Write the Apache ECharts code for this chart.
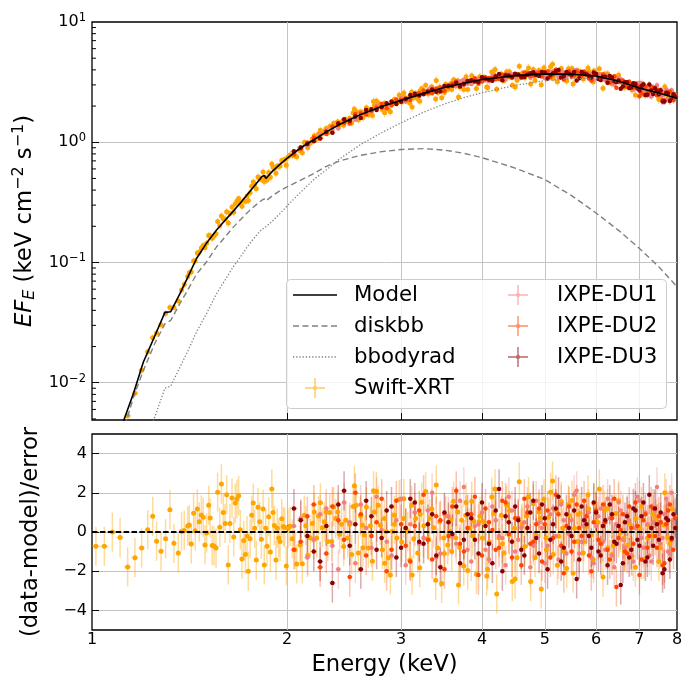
<!DOCTYPE html>
<html><head><meta charset="utf-8">
<script src="https://cdn.jsdelivr.net/npm/echarts@6/dist/echarts.min.js"></script>
<style>html,body{margin:0;padding:0;background:#fff}#c{width:697px;height:678px}</style>
</head><body><div id="c"></div>
<script>
// ---------------- data ----------------
const modelE = [1.05,1.10,1.12,1.16,1.20,1.25,1.296,1.300,1.323,1.367,1.40,1.45,1.50,1.557,1.60,1.65,1.692,1.75,1.80,1.83,1.845,1.855,1.90,1.95,2.00,2.10,2.20,2.30,2.414,2.60,2.80,3.00,3.25,3.50,3.75,4.00,4.50,5.00,5.50,6.00,6.50,7.00,7.50,8.00];
const modelTotal = [0.0017,0.0036,0.0049,0.0083,0.0148,0.0245,0.0385,0.0390,0.0390,0.055,0.072,0.108,0.143,0.186,0.220,0.265,0.309,0.385,0.465,0.520,0.530,0.500,0.575,0.655,0.735,0.90,1.05,1.22,1.41,1.70,1.98,2.23,2.55,2.85,3.10,3.33,3.58,3.70,3.68,3.56,3.22,2.82,2.57,2.32];
const modelDisk = [0.0013,0.0030,0.0041,0.0077,0.0126,0.0212,0.0310,0.0300,0.0330,0.0456,0.057,0.080,0.100,0.135,0.160,0.195,0.225,0.270,0.308,0.330,0.338,0.325,0.360,0.395,0.425,0.485,0.550,0.630,0.700,0.780,0.835,0.870,0.885,0.860,0.810,0.745,0.610,0.490,0.360,0.258,0.185,0.131,0.092,0.063];
const modelBB = [0.0002,0.0006,0.0009,0.0016,0.0030,0.0052,0.0090,0.0092,0.0094,0.0135,0.0175,0.0265,0.0369,0.0552,0.0697,0.091,0.110,0.143,0.172,0.190,0.193,0.192,0.222,0.255,0.295,0.385,0.490,0.590,0.730,0.960,1.200,1.450,1.780,2.080,2.350,2.580,2.980,3.250,3.380,3.400,3.200,2.800,2.520,2.270];

const swiftE = [1.014,1.045,1.075,1.105,1.135,1.165,1.193,1.219,1.241,1.258,1.278,1.299,1.319,1.338,1.359,1.375,1.388,1.405,1.413,1.423,1.435,1.443,1.454,1.464,1.475,1.485,1.494,1.503,1.514,1.522,1.533,1.543,1.554,1.563,1.575,1.584,1.595,1.605,1.614,1.623,1.633,1.645,1.655,1.664,1.674,1.684,1.694,1.704,1.715,1.725,1.735,1.743,1.754,1.764,1.774,1.783,1.793,1.804,1.815,1.826,1.837,1.845,1.854,1.863,1.874,1.885,1.895,1.903,1.912,1.923,1.932,1.942,1.951,1.963,1.974,1.984,1.995,2.007,
2.021,2.038,2.058,2.070,2.095,2.112,2.127,2.138,2.153,2.173,2.188,2.204,2.223,2.236,2.252,2.268,2.284,2.298,2.312,2.328,2.345,2.361,2.378,2.395,2.412,2.429,2.446,2.464,2.482,2.499,2.517,2.541,2.559,2.577,2.596,2.614,2.633,2.652,2.671,2.690,2.710,2.729,2.748,2.767,2.787,2.807,2.827,2.847,2.867,2.888,2.908,2.929,2.957,2.981,3.007,3.028,3.050,3.072,3.094,3.116,3.138,3.160,3.183,3.206,3.228,3.252,3.274,3.298,3.321,3.345,3.369,3.393,3.417,3.441,3.466,3.491,3.516,3.541,3.566,3.592,3.617,3.643,3.669,3.695,3.722,3.749,3.775,3.802,3.829,3.857,3.885,3.921,3.958,4.005,
4.029,4.068,4.106,4.141,4.175,4.215,4.249,4.284,4.325,4.367,4.407,4.455,4.493,4.530,4.567,4.611,4.656,4.689,4.756,4.800,4.846,4.893,4.938,4.986,5.022,5.070,5.106,5.154,5.203,5.253,5.302,5.353,5.405,5.455,5.508,5.561,5.613,5.667,5.734,5.789,5.845,5.899,5.956,6.013,6.069,6.128,6.186,6.259,6.349,6.440,6.533,6.627,6.722,6.818,6.916,7.015,7.115,7.217,7.320,7.425,7.532,7.638,7.747,7.859];
const swiftFlux = [0.00093,0.00149,0.00249,0.00383,0.00531,0.00818,0.0127,0.0181,0.0237,0.0259,0.0303,0.0377,0.0422,0.0422,0.0479,0.0590,0.0656,0.0766,0.0822,0.0835,0.1028,0.103,0.1197,0.1216,0.1318,0.1387,0.1324,0.1445,0.168,0.167,0.159,0.166,0.173,0.219,0.202,0.244,0.231,0.230,0.264,0.213,0.255,0.290,0.262,0.307,0.324,0.340,0.313,0.294,0.327,0.322,0.358,0.327,0.380,0.431,0.467,0.443,0.410,0.513,0.504,0.491,0.565,0.472,0.508,0.486,0.560,0.511,0.658,0.621,0.607,0.553,0.634,0.628,0.634,0.706,0.705,0.719,0.644,0.755,
0.783,0.775,0.776,0.757,0.849,0.819,0.995,0.975,0.898,0.984,1.062,1.135,1.064,1.172,1.259,1.180,1.235,1.303,1.197,1.355,1.250,1.439,1.415,1.479,1.393,1.472,1.387,1.549,1.479,1.581,1.445,1.888,1.791,1.542,1.791,1.762,1.726,1.932,1.694,1.862,1.667,2.014,2.198,2.123,2.009,1.871,2.113,2.042,1.879,1.791,2.118,2.270,2.128,2.472,2.163,2.377,2.323,2.323,2.123,2.612,2.350,2.553,2.286,2.193,2.805,2.612,2.979,2.547,2.767,2.891,2.735,2.291,2.594,2.884,2.339,2.780,3.034,2.761,2.924,2.748,3.304,2.931,3.243,2.884,3.199,2.748,3.311,2.748,3.214,3.565,3.350,2.799,3.412,3.258,
3.467,2.877,3.266,3.837,3.648,2.761,3.381,3.690,3.243,3.864,3.499,2.985,3.631,3.273,4.295,3.715,3.443,3.846,3.055,4.036,3.631,3.945,3.013,4.159,3.622,3.899,4.256,3.412,3.981,3.631,4.111,3.443,3.236,3.908,4.111,3.715,3.540,3.882,3.365,3.673,3.899,3.548,3.936,3.681,4.083,3.357,3.698,3.184,3.069,3.475,3.184,3.048,2.897,2.716,3.027,2.851,2.500,2.773,2.612,2.735,2.410,2.564,2.399,2.600];
const swiftRes = [-0.73,-0.73,0,-0.28,-1.78,-1.31,-0.81,0.12,0.8,-0.47,-0.98,-0.35,1.14,-0.58,-1.07,0.03,0.08,0.31,0.36,-0.61,0.96,0.06,1.17,0.52,0.87,0.75,-0.66,-0.05,1.37,0.72,-0.69,-0.71,-0.82,2.03,0.24,2.45,0.99,0.44,1.9,-1.68,0.44,1.73,-0.25,1.48,1.68,1.85,0.11,-1.38,-0.43,-1.15,-0.2,-2.0,-0.35,0.85,1.48,0.19,-1.43,1.26,0.52,-0.37,1.17,-1.68,0.19,-0.73,0.78,-1.02,2.2,1.0,0.33,-1.43,0.19,-0.31,-0.48,0.68,0.28,0.23,-1.73,0.19,
0.29,-0.35,-0.9,-1.63,-0.66,-1.62,0.86,0.32,-1.19,-0.31,0.44,1.02,-0.31,0.82,1.49,0.22,0.52,1.02,-0.48,0.99,-0.48,1.27,0.69,1.02,-0.12,0.39,-0.74,0.6,-0.31,0.39,-1.15,2.36,1.36,-1.07,0.82,0.35,-0.15,1.27,-0.82,0.32,-1.49,1.02,2.06,1.36,0.35,-0.9,0.69,0.02,-1.32,-2.19,0.02,0.86,-0.31,1.66,-0.51,0.69,0.19,0.02,-1.44,1.36,-0.35,0.69,-1.07,-1.82,1.52,0.32,2.06,-0.35,0.69,1.19,0.22,-2.46,-0.82,0.52,-2.63,-0.31,0.82,-0.66,0.02,-0.99,1.57,-0.31,1.02,-0.79,0.6,-1.74,0.86,-1.96,0.19,1.57,0.55,-2.16,0.52,-0.31,
0.52,-2.24,-0.51,1.78,0.94,-3.16,-0.31,0.86,-1.07,1.36,-0.15,-2.53,0.19,-1.32,2.56,0.44,-0.74,0.82,-2.53,1.44,-0.15,1.02,-2.91,1.69,-0.31,0.75,2.03,-1.15,1.11,-0.22,1.56,-0.99,-1.86,0.86,1.61,0.19,-0.48,0.94,-1.07,0.27,1.19,-0.15,1.44,0.52,2.19,-0.48,1.11,-0.82,-1.15,0.94,-0.05,-0.31,-0.66,-1.24,0.69,0.19,-1.41,0.36,-0.22,0.69,-0.82,0.36,-0.31,1.19];
const swiftRelErr = 0.07;
// second group of Swift bins (interleaved, 2.5-8 keV)
const swiftEb = [2.53,2.62,2.72,2.83,2.93,3.03,3.12,3.21,3.31,3.40,3.50,3.58,3.68,3.78,3.87,3.97,4.08,4.19,4.30,4.41,4.50,4.61,4.72,4.83,4.92,5.03,5.14,5.23,5.33,5.44,5.53,5.63,5.74,5.83,5.94,6.04,6.15,6.25,6.38,6.50,6.63,6.77,6.90,7.05,7.20,7.35,7.50,7.66,7.80];
const swiftFluxB = [1.751,1.610,2.179,1.757,2.207,2.573,1.962,2.679,2.540,3.258,2.597,3.076,2.378,3.500,3.159,3.506,2.854,4.029,3.316,3.848,2.886,3.690,4.154,3.278,3.888,3.430,4.459,3.188,3.742,4.093,3.051,3.906,3.471,4.140,3.167,3.669,2.816,3.706,3.114,3.625,2.858,3.087,2.475,3.083,2.645,2.826,2.262,2.888,2.302];
const swiftResB = [1.3,-0.8,2.1,-1.6,0.4,1.7,-2.2,0.9,-0.4,2.4,-1.1,0.6,-2.7,1.5,-0.2,0.8,-1.9,2.2,-0.6,1.1,-2.4,0.3,1.8,-1.3,0.7,-0.9,2.6,-1.7,0.2,1.4,-2.1,0.9,-0.5,1.9,-1.4,0.5,-2.3,1.2,-0.7,1.6,-1.0,0.4,-1.8,1.3,-0.3,0.9,-1.5,2.0,-0.6];
const swiftRelErrB = 0.08;

// IXPE bins (two interleaved halves of the same 0.05-keV binning)
const ixpeEa = [2.05,2.15,2.25,2.35,2.45,2.55,2.65,2.75,2.85,2.95,3.05,3.15,3.25,3.35,3.45,3.55,3.65,3.75,3.85,3.95,4.05,4.15,4.25,4.35,4.45,4.55,4.65,4.75,4.85,4.95,5.05,5.15,5.25,5.35,5.45,5.55,5.65,5.75,5.85,5.95,6.05,6.15,6.25,6.35,6.45,6.55,6.65,6.75,6.85,6.95,7.05,7.15,7.25,7.35,7.45,7.55,7.65,7.75,7.85,7.95];
const ixpeEb = [2.10,2.20,2.30,2.40,2.50,2.60,2.70,2.80,2.90,3.00,3.10,3.20,3.30,3.40,3.50,3.60,3.70,3.80,3.90,4.00,4.10,4.20,4.30,4.40,4.50,4.60,4.70,4.80,4.90,5.00,5.10,5.20,5.30,5.40,5.50,5.60,5.70,5.80,5.90,6.00,6.10,6.20,6.30,6.40,6.50,6.60,6.70,6.80,6.90,7.00,7.10,7.20,7.30,7.40,7.50,7.60,7.70,7.80,7.90];
const ixpeRelErrA = [0.03,0.03,0.03,0.03,0.03,0.03,0.03,0.03,0.03,0.03,0.03,0.03,0.03,0.03,0.03,0.03,0.03,0.03,0.03,0.03,0.03,0.03,0.03,0.03,0.03,0.03,0.03,0.03,0.03,0.03,0.045,0.045,0.045,0.045,0.045,0.045,0.045,0.045,0.045,0.045,0.045,0.045,0.045,0.045,0.045,0.045,0.045,0.045,0.045,0.045,0.065,0.065,0.065,0.065,0.065,0.065,0.065,0.065,0.065,0.065];
const ixpeRelErrB = [0.03,0.03,0.03,0.03,0.03,0.03,0.03,0.03,0.03,0.03,0.03,0.03,0.03,0.03,0.03,0.03,0.03,0.03,0.03,0.03,0.03,0.03,0.03,0.03,0.03,0.03,0.03,0.03,0.03,0.045,0.045,0.045,0.045,0.045,0.045,0.045,0.045,0.045,0.045,0.045,0.045,0.045,0.045,0.045,0.045,0.045,0.045,0.045,0.045,0.065,0.065,0.065,0.065,0.065,0.065,0.065,0.065,0.065,0.065];
const ixpeHalfBin = 0.025;
const du1FluxA = [0.821,0.935,1.163,1.273,1.528,1.540,1.777,2.013,2.011,2.202,2.174,2.494,2.530,2.833,2.701,2.974,2.952,3.311,3.048,3.320,3.260,3.537,3.438,3.329,3.673,3.546,3.668,3.442,3.840,3.712,3.581,3.889,3.458,3.780,3.664,3.977,3.459,3.663,3.751,3.308,3.651,3.373,3.640,3.140,3.310,3.334,2.979,3.087,2.733,3.082,2.739,2.913,2.476,2.722,2.982,2.448,2.641,2.284,2.704,2.472];
const du1FluxB = [0.909,1.037,1.257,1.300,1.561,1.761,1.793,1.981,2.026,2.340,2.383,2.441,2.698,2.626,2.925,2.937,3.197,3.059,3.265,3.414,3.235,3.493,3.452,3.723,3.465,3.623,3.767,3.574,3.732,3.428,3.844,3.657,3.917,3.499,3.771,3.996,3.544,3.731,3.368,3.592,3.675,3.278,3.456,3.019,3.431,3.077,3.171,2.808,2.917,3.115,2.620,2.780,2.401,2.802,2.654,2.472,2.742,2.245,2.463];
const du1ResA = [0.3,-1.3,0.9,-0.7,1.5,-1.6,0.2,1.8,-0.5,0.6,-1.7,1.0,-0.3,2.0,-1.1,0.8,-0.6,2.3,-1.5,0.4,-0.9,1.3,-0.2,-1.7,1.1,-0.4,0.5,-1.8,1.6,0.2,-0.7,1.2,-1.4,0.6,-0.1,1.9,-1.1,0.3,1.0,-1.6,0.8,-0.5,1.7,-1.2,0.4,1.1,-0.8,0.6,-1.5,1.8,-0.3,1.0,-1.2,0.5,2.3,-0.6,0.9,-1.0,2.0,0.8];
const du1ResB = [0.7,-0.4,1.2,-1.9,0.5,1.4,-0.8,0.1,-1.2,1.7,0.4,-0.6,1.1,-1.3,0.9,-0.2,1.6,-0.9,0.3,1.0,-1.4,0.6,-0.3,1.8,-1.0,0.2,1.3,-0.7,0.5,-1.6,0.9,-0.2,1.4,-1.1,0.6,2.1,-0.5,0.8,-1.3,0.3,1.2,-0.9,0.7,-1.8,1.5,-0.4,0.9,-1.2,0.2,1.6,-0.8,0.4,-1.5,1.1,0.5,-0.3,1.7,-1.1,0.6];
const du2FluxA = [0.792,0.996,1.071,1.351,1.444,1.715,1.702,1.939,1.919,2.267,2.243,2.443,2.699,2.561,2.843,2.887,3.195,3.004,3.278,3.064,3.471,3.414,3.376,3.666,3.417,3.664,3.798,3.574,3.708,3.524,3.881,3.640,3.839,3.333,3.896,3.582,3.672,3.874,3.395,3.645,3.461,3.668,3.244,3.424,2.841,3.191,2.951,3.182,2.852,2.889,2.539,2.895,2.650,2.842,2.459,2.630,2.236,2.618,2.331,2.457];
const du2FluxB = [0.877,1.094,1.173,1.404,1.432,1.736,1.826,2.076,2.045,2.253,2.249,2.568,2.581,2.799,2.686,3.070,2.996,3.163,3.411,3.196,3.428,3.338,3.650,3.521,3.647,3.417,3.735,3.596,3.809,3.760,3.478,4.005,3.569,3.731,3.507,3.881,3.593,3.731,3.255,3.719,3.393,3.493,3.139,3.536,3.171,3.260,2.897,2.995,3.086,2.418,2.872,2.569,2.885,2.581,2.704,2.242,2.533,2.638,2.232];
const du2ResA = [-0.9,0.8,-1.8,1.3,-0.4,2.0,-1.2,0.5,-2.0,1.6,-0.7,0.3,1.9,-1.4,0.6,-0.2,2.1,-1.0,0.9,-2.2,1.2,0.1,-0.8,1.5,-1.3,0.7,1.7,-0.6,0.4,-1.5,1.1,-0.3,0.9,-2.1,1.3,-0.5,0.2,1.6,-1.2,0.5,-0.4,1.4,-0.9,0.7,-2.8,0.1,-1.0,1.3,-0.6,0.3,-1.4,0.9,-0.2,1.2,-0.8,0.5,-1.6,1.1,-0.4,0.7];
const du2ResB = [-0.5,1.4,-1.1,0.6,-2.3,0.9,-0.2,1.7,-0.9,0.4,-1.5,1.1,-0.4,0.8,-1.9,1.3,-0.6,0.2,1.8,-1.2,0.5,-0.9,1.6,-0.1,0.7,-1.7,1.0,-0.5,1.2,0.4,-1.3,1.9,-0.7,0.3,-1.0,1.4,-0.2,0.8,-2.0,1.1,-0.6,0.5,-1.4,1.7,-0.3,0.9,-1.1,0.2,1.5,-2.2,0.6,-0.8,1.3,-0.2,0.8,-1.7,0.4,1.4,-0.9];
const du3FluxA = [0.843,0.967,1.081,1.199,1.554,1.637,1.851,1.858,2.109,2.079,2.305,2.530,2.507,2.745,2.642,2.948,3.123,3.060,3.259,3.173,3.380,3.241,3.687,3.592,3.503,3.654,3.484,3.748,3.631,3.845,3.382,3.756,3.989,3.549,3.714,3.845,3.410,3.712,3.557,3.806,3.365,3.498,3.122,3.453,3.163,2.791,3.160,2.830,3.089,2.800,2.938,2.468,3.017,2.516,2.661,2.713,2.187,2.538,2.346,2.381];
const du3FluxB = [0.906,1.019,1.224,1.437,1.506,1.594,1.881,1.957,2.184,2.173,2.475,2.449,2.643,2.635,2.933,2.946,2.905,3.229,3.197,3.464,3.316,3.544,3.274,3.585,3.711,3.504,3.648,3.826,3.556,3.810,3.628,3.889,3.436,3.830,3.639,3.257,3.838,3.666,3.448,3.703,3.299,3.508,3.561,3.211,3.257,2.907,3.158,2.848,3.034,2.694,3.033,2.481,2.695,2.819,2.503,2.177,2.581,2.198,2.510];
const du3ResA = [1.2,-0.2,-1.5,-2.6,2.1,0.4,1.6,-0.9,1.1,-1.3,0.2,1.5,-0.6,0.9,-1.8,0.5,1.3,-0.4,0.7,-1.1,0.3,-1.6,2.2,0.8,-0.5,0.6,-1.2,1.0,-0.3,1.4,-1.9,0.4,1.8,-0.8,0.2,1.1,-1.4,0.6,-0.2,1.5,-1.0,0.3,-1.7,0.9,-0.6,-2.7,0.5,-1.3,1.2,-0.4,0.8,-1.5,1.9,-0.7,0.4,1.0,-1.9,0.6,-0.3,0.2];
const du3ResB = [0.6,-1.0,0.3,1.4,-0.7,-1.9,0.8,-0.3,1.3,-0.8,1.7,-0.5,0.4,-1.2,1.0,-0.1,-1.6,0.9,-0.4,1.5,-0.6,1.1,-2.0,0.5,1.3,-0.9,0.2,1.6,-1.1,0.7,-0.4,1.2,-1.5,0.9,-0.2,-2.4,1.3,0.4,-0.8,1.0,-1.2,0.6,1.4,-0.5,0.3,-1.6,0.8,-0.9,1.1,-0.7,1.5,-1.3,0.2,1.2,-0.4,-2.1,0.7,-1.4,0.9];
const resErr = 1;
const zeroLevel = 0;

const xTickLabels = [1,2,3,4,5,6,7,8];
const xInnerTicks = [2,3,4,5,6,7];
const yMajorLabels = [0.01,0.1,1,10];
const yMajorTicks = [0.01,0.1,1];
const yMinorTicks = [0.005,0.006,0.007,0.008,0.009,0.02,0.03,0.04,0.05,0.06,0.07,0.08,0.09,0.2,0.3,0.4,0.5,0.6,0.7,0.8,0.9,2,3,4,5,6,7,8,9];
const resTicks = [-4,-2,0,2,4];

// ---------------- helpers ----------------
const FF = 'DejaVu Sans';
const C_SW = '#FFA500', C_D1 = '#F08080', C_D2 = '#FF4500', C_D3 = '#8B0000';
const A_SW = 'rgba(255,165,0,0.4)', A_D1 = 'rgba(240,128,128,0.33)', A_D2 = 'rgba(255,69,0,0.33)', A_D3 = 'rgba(139,0,0,0.33)';

const ixpeE = ixpeEa.concat(ixpeEb);
const ixpeRelErr = ixpeRelErrA.concat(ixpeRelErrB);
const du1Flux = du1FluxA.concat(du1FluxB), du1Res = du1ResA.concat(du1ResB);
const du2Flux = du2FluxA.concat(du2FluxB), du2Res = du2ResA.concat(du2ResB);
const du3Flux = du3FluxA.concat(du3FluxB), du3Res = du3ResA.concat(du3ResB);

function binHalf(E){
  return E.map((e,i)=>{
    const lo = i>0 ? (e-E[i-1])/2 : (E[1]-E[0])/2;
    const hi = i<E.length-1 ? (E[i+1]-e)/2 : (e-E[i-1])/2;
    return [lo,hi];
  });
}
const swHalf = binHalf(swiftE);
const swHalfB = binHalf(swiftEb).map(h=>[h[0]/2, h[1]/2]);
const ixHalf = ixpeE.map(()=>[ixpeHalfBin, ixpeHalfBin]);

function errData(E, Y, errFn, half){
  return E.map((e,i)=>{ const s = errFn(i); return [e, Y[i], Y[i]-s, Y[i]+s, e-half[i][0], e+half[i][1]]; });
}
function errRender(color){
  return function(params, api){
    const x = api.value(0), y = api.value(1);
    const a = api.coord([x, api.value(2)]), b = api.coord([x, api.value(3)]);
    const c = api.coord([api.value(4), y]), d = api.coord([api.value(5), y]);
    return {type:'group', children:[
      {type:'line', shape:{x1:a[0],y1:a[1],x2:b[0],y2:b[1]}, style:{stroke:color, lineWidth:1.5}},
      {type:'line', shape:{x1:c[0],y1:c[1],x2:d[0],y2:d[1]}, style:{stroke:color, lineWidth:1.5}}
    ]};
  };
}
function errSeries(E, Y, errFn, half, color, gi){
  return {type:'custom', xAxisIndex:gi, yAxisIndex:gi, clip:true, silent:true,
    data: errData(E, Y, errFn, half), encode:{x:0, y:1}, renderItem: errRender(color)};
}
function ptSeries(name, E, Y, color, gi, size){
  return {type:'scatter', name:name, xAxisIndex:gi, yAxisIndex:gi, symbol:'circle', symbolSize:size,
    itemStyle:{color:color, opacity:1}, silent:true, clip:true,
    data: E.map((e,i)=>[e, Y[i]])};
}
function lineSeries(name, Y, style){
  return {type:'line', name:name, xAxisIndex:0, yAxisIndex:0, symbol:'none', showSymbol:false, silent:true, clip:true,
    itemStyle:{color:style.color},
    data: modelE.map((e,i)=>[e, Y[i]]), lineStyle:style, z:3};
}
function dashIcon(on, off, h){
  let s = 'path://M0,0h0.01v0.01h-0.01z M43.99,19.99h0.01v0.01h-0.01z';
  for (let x = 0; x < 44; x += on + off) { const w = Math.min(on, 44 - x); s += ' M' + x + ',' + (10 - h/2) + 'h' + w + 'v' + h + 'h' + (-w) + 'z'; }
  return s;
}
const crossIcon = 'path://M0,0h0.01v0.01h-0.01z M43.99,19.99h0.01v0.01h-0.01z M21.3,0h1.4v20h-1.4z M12,9.3h20v1.4h-20z M20.3,8.3h3.4v3.4h-3.4z';

const series = [];
// top panel
series.push(errSeries(swiftE, swiftFlux, i=>swiftFlux[i]*swiftRelErr, swHalf, A_SW, 0));
series.push(ptSeries('Swift-XRT', swiftE, swiftFlux, C_SW, 0, 5));
series.push(errSeries(swiftEb, swiftFluxB, i=>swiftFluxB[i]*swiftRelErrB, swHalfB, A_SW, 0));
series.push(ptSeries('Swift-XRT', swiftEb, swiftFluxB, C_SW, 0, 5));
[[du1Flux,C_D1,A_D1,'IXPE-DU1'],[du2Flux,C_D2,A_D2,'IXPE-DU2'],[du3Flux,C_D3,A_D3,'IXPE-DU3']].forEach(d=>{
  series.push(errSeries(ixpeE, d[0], i=>d[0][i]*ixpeRelErr[i], ixHalf, d[2], 0));
  series.push(ptSeries(d[3], ixpeE, d[0], d[1], 0, 4.5));
});
series.push(lineSeries('bbodyrad', modelBB, {color:'#808080', width:1.3, type:[1.3,1.9]}));
series.push(lineSeries('diskbb', modelDisk, {color:'#808080', width:1.4, type:[6,3.5]}));
series.push(lineSeries('Model', modelTotal, {color:'#000', width:1.6, type:'solid'}));
series.push({type:'custom', xAxisIndex:0, yAxisIndex:0, silent:true, clip:false, z:5,
  data: yMinorTicks.map(t=>[1, t]), encode:{x:0,y:1},
  renderItem:(p, api)=>{ const q = api.coord([api.value(0), api.value(1)]);
    return {type:'line', shape:{x1:q[0], y1:q[1], x2:q[0]+4, y2:q[1]}, style:{stroke:'#000', lineWidth:1}}; }});
// residual panel
series.push(errSeries(swiftE, swiftRes, ()=>resErr, swHalf, A_SW, 1));
series.push(ptSeries('Swift-XRT', swiftE, swiftRes, C_SW, 1, 5));
series.push(errSeries(swiftEb, swiftResB, ()=>resErr, swHalfB, A_SW, 1));
series.push(ptSeries('Swift-XRT', swiftEb, swiftResB, C_SW, 1, 5));
[[du1Res,C_D1,A_D1,'IXPE-DU1'],[du2Res,C_D2,A_D2,'IXPE-DU2'],[du3Res,C_D3,A_D3,'IXPE-DU3']].forEach(d=>{
  series.push(errSeries(ixpeE, d[0], ()=>resErr, ixHalf, d[2], 1));
  series.push(ptSeries(d[3], ixpeE, d[0], d[1], 1, 4.5));
});
// zero reference line of the residual panel (drawn on top)
series.push({type:'line', name:'_zero', xAxisIndex:1, yAxisIndex:1, symbol:'none', silent:true, z:6,
  data:[[xTickLabels[0], zeroLevel],[xTickLabels[xTickLabels.length-1], zeroLevel]],
  lineStyle:{color:'#000', width:1.8, type:[5.5,2.4]}});

const legendText = {fontFamily:FF, fontSize:21.3, color:'#000', padding:[0,0,0,12], lineHeight:24};
const splitStyle = {show:true, lineStyle:{color:'#c4c4c4', width:1}};
const labelRich = {b:{fontFamily:FF, fontSize:16, color:'#000'}, p:{fontFamily:FF, fontSize:11.5, color:'#000', padding:[0,0,8,0]}};

const option = {
  animation:false,
  backgroundColor:'#fff',
  grid:[
    {left:92, top:22, width:585, height:398, show:true, borderColor:'#000', borderWidth:1.3, backgroundColor:'transparent'},
    {left:92, top:434, width:585, height:199, show:true, borderColor:'#000', borderWidth:1.3, backgroundColor:'transparent'}
  ],
  xAxis:[
    {gridIndex:0, type:'log', logBase:10, min:1, max:8, axisLine:{show:false},
      axisTick:{show:true, inside:true, length:7, customValues:xInnerTicks, lineStyle:{color:'#000', width:1}},
      axisLabel:{show:false}, splitLine:splitStyle},
    {gridIndex:1, type:'log', logBase:10, min:1, max:8, axisLine:{show:false},
      axisTick:{show:true, inside:true, length:7, customValues:xInnerTicks, lineStyle:{color:'#000', width:1}},
      axisLabel:{show:true, customValues:xTickLabels, fontFamily:FF, fontSize:16, color:'#000', margin:2},
      splitLine:splitStyle,
      name:'Energy (keV)', nameLocation:'middle', nameGap:24,
      nameTextStyle:{fontFamily:FF, fontSize:22.7, color:'#000'}}
  ],
  yAxis:[
    {gridIndex:0, type:'log', logBase:10, min:0.0049, max:10, axisLine:{show:false},
      axisTick:{show:true, inside:true, length:7, customValues:yMajorTicks, lineStyle:{color:'#000', width:1}},
      axisLabel:{show:true, customValues:yMajorLabels, margin:6, rich:labelRich,
        formatter:v=>{ const k = Math.round(Math.log10(v)); return '{b|10}{p|' + (k<0 ? '\u2212'+(-k) : k) + '}'; }},
      splitLine:splitStyle,
      name:'{i|EF}{s|E}{n| (keV cm}{p|\u22122}{n| s}{p|\u22121}{n|)}', nameLocation:'middle', nameGap:48,
      nameTextStyle:{fontFamily:FF, fontSize:22.7, color:'#000', rich:{
        i:{fontFamily:FF, fontSize:22.7, fontStyle:'italic', color:'#000'},
        s:{fontFamily:FF, fontSize:16, fontStyle:'italic', color:'#000', padding:[10,0,0,0]},
        n:{fontFamily:FF, fontSize:22.7, color:'#000'},
        p:{fontFamily:FF, fontSize:16, color:'#000', padding:[0,0,11,0]}}}},
    {gridIndex:1, type:'value', min:-5, max:5, axisLine:{show:false},
      axisTick:{show:true, inside:true, length:7, customValues:resTicks, lineStyle:{color:'#000', width:1}},
      axisLabel:{show:true, customValues:resTicks, fontFamily:FF, fontSize:16, color:'#000', margin:5,
        formatter:v=> v<0 ? '\u2212'+Math.abs(v) : String(v)},
      splitLine:splitStyle,
      name:'(data-model)/error', nameLocation:'middle', nameGap:49,
      nameTextStyle:{fontFamily:FF, fontSize:22.7, color:'#000'}}
  ],
  legend:[
    {left:293, top:283, orient:'vertical', padding:0, itemWidth:44, itemHeight:20, itemGap:7, selectedMode:false, z:10,
      textStyle:legendText,
      data:[{name:'Model', icon:dashIcon(44,0,1.7), itemStyle:{color:'#000', borderWidth:0}},
        {name:'diskbb', icon:dashIcon(6,3.5,1.4), itemStyle:{color:'#808080', borderWidth:0}},
        {name:'bbodyrad', icon:dashIcon(1.3,1.9,1.3), itemStyle:{color:'#808080', borderWidth:0}},
        {name:'Swift-XRT', icon:crossIcon, itemStyle:{color:'rgba(255,165,0,0.6)', borderWidth:0}}]},
    {left:496, top:283, orient:'vertical', padding:0, itemWidth:44, itemHeight:20, itemGap:7, selectedMode:false, z:10,
      textStyle:legendText,
      data:[{name:'IXPE-DU1', icon:crossIcon, itemStyle:{color:'rgba(240,128,128,0.6)', borderWidth:0}},
        {name:'IXPE-DU2', icon:crossIcon, itemStyle:{color:'rgba(255,69,0,0.6)', borderWidth:0}},
        {name:'IXPE-DU3', icon:crossIcon, itemStyle:{color:'rgba(139,0,0,0.6)', borderWidth:0}}]}
  ],
  graphic:[{type:'rect', left:286, top:279, z:8, silent:true,
    shape:{width:380, height:129, r:4}, style:{fill:'rgba(255,255,255,0.8)', stroke:'#cccccc', lineWidth:1}}],
  series: series
};
const chart = echarts.init(document.getElementById('c'), null, {renderer:'canvas'});
chart.setOption(option);
</script>
</body></html>
